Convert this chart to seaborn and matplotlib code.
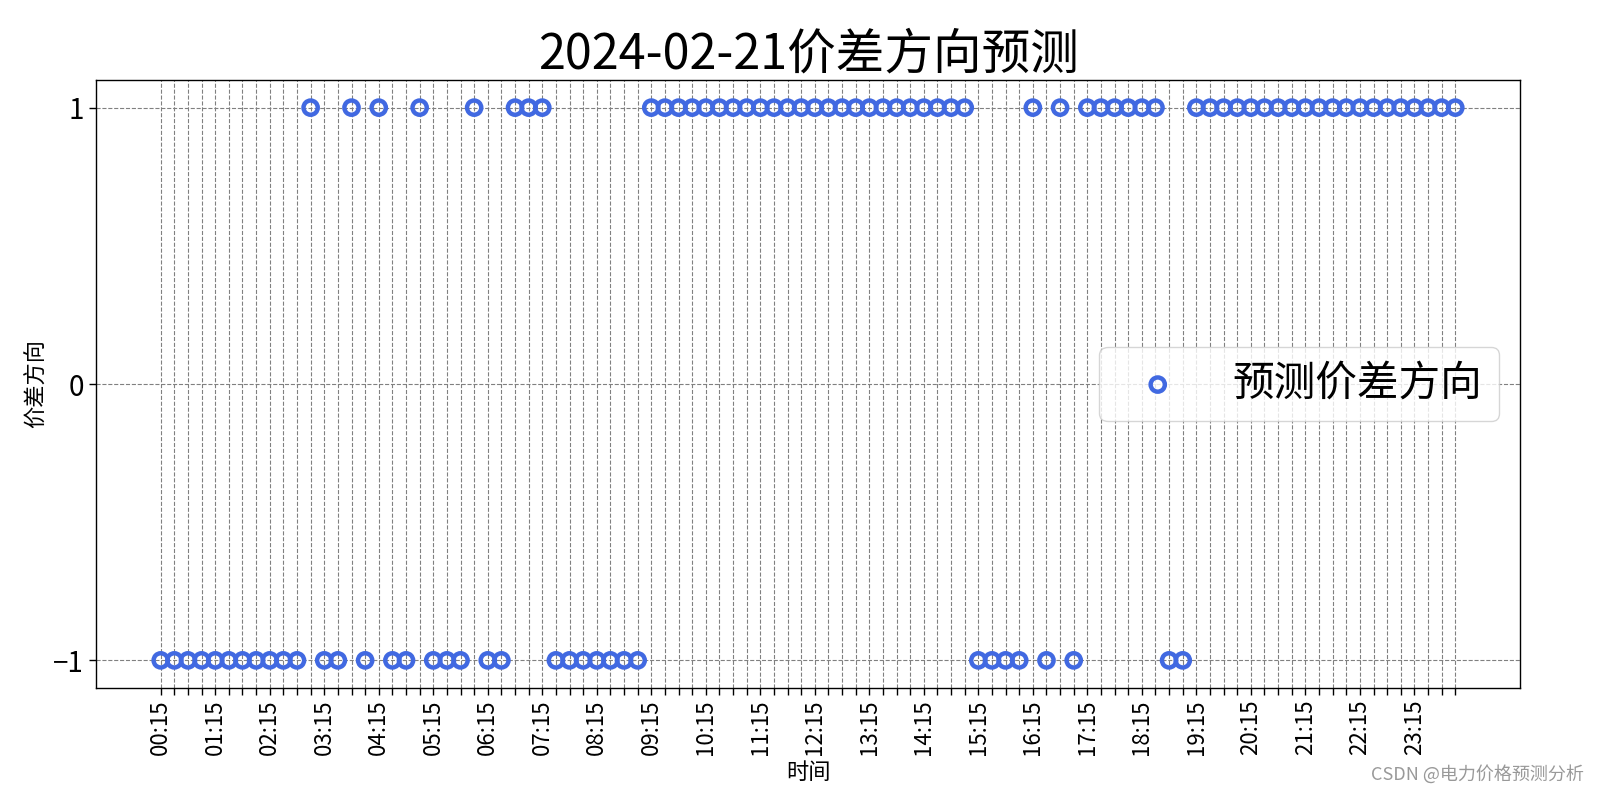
import numpy as np
import pandas as pd
import matplotlib
matplotlib.use('Agg')
import matplotlib.pyplot as plt
import seaborn as sns

# --- DATA ---
DATE = "2024-02-21"
times = [t.strftime("%H:%M") for t in pd.date_range("2024-02-21 00:15", periods=96, freq="15min")]
direction = [
    -1, -1, -1, -1, -1, -1, -1, -1, -1, -1, -1,   # 00:15 - 02:45
    1, -1, -1, 1, -1, 1, -1, -1, 1, -1, -1, -1,  # 03:00 - 05:45
    1, -1, -1, 1, 1, 1,                           # 06:00 - 07:15
    -1, -1, -1, -1, -1, -1, -1,                   # 07:30 - 09:00
    1, 1, 1, 1, 1, 1, 1, 1, 1, 1, 1, 1,           # 09:15 - 12:00
    1, 1, 1, 1, 1, 1, 1, 1, 1, 1, 1, 1,           # 12:15 - 15:00
    -1, -1, -1, -1, 1, -1, 1, -1,                 # 15:15 - 17:00
    1, 1, 1, 1, 1, 1, -1, -1,                     # 17:15 - 19:00
    1, 1, 1, 1, 1, 1, 1, 1, 1, 1,                 # 19:15 - 21:30
    1, 1, 1, 1, 1, 1, 1, 1, 1, 1,                 # 21:45 - 24:00
]
label_every = 4

df = pd.DataFrame({"idx": np.arange(len(times)), "time": times, "direction": direction})

sns.set_theme(style="white")
plt.rcParams['font.family'] = ['Noto Sans CJK SC', 'DejaVu Sans']
plt.rcParams['axes.unicode_minus'] = True
plt.rcParams['text.color'] = 'black'
plt.rcParams['axes.labelcolor'] = 'black'
plt.rcParams['xtick.color'] = 'black'
plt.rcParams['ytick.color'] = 'black'

fig, ax = plt.subplots(figsize=(16, 8), dpi=100)
fig.subplots_adjust(left=0.06, right=0.95, top=0.9, bottom=0.14)

sns.scatterplot(data=df, x="idx", y="direction", ax=ax, marker="o", s=105,
                facecolors="none", edgecolor="royalblue", linewidth=3.2,
                label="预测价差方向", zorder=3)

ax.set_xticks(df["idx"])
ax.set_xticklabels([t if i % label_every == 0 else "" for i, t in enumerate(times)],
                   rotation=90, fontsize=16)
ax.set_yticks([-1, 0, 1])
ax.set_yticklabels(["\u22121", "0", "1"], fontsize=20)
ax.tick_params(axis="both", direction="out", length=5, width=1, colors="black", bottom=True, left=True)

ax.grid(True, linestyle="--", color="gray", linewidth=0.8)
for s in ax.spines.values():
    s.set_color("black")
    s.set_linewidth(1)

ax.set_title(DATE + "价差方向预测", fontsize=35, pad=8, color="black", fontweight="medium")
ax.set_xlabel("时间", fontsize=16)
ax.set_ylabel("价差方向", fontsize=16)
ax.legend(loc="center right", fontsize=30, markerscale=1.0, borderpad=0.4)

fig.text(0.99, 0.02, "CSDN @电力价格预测分析", ha="right", va="bottom", fontsize=13, color="#999999")

plt.savefig("out.png", dpi=100)
plt.close()
